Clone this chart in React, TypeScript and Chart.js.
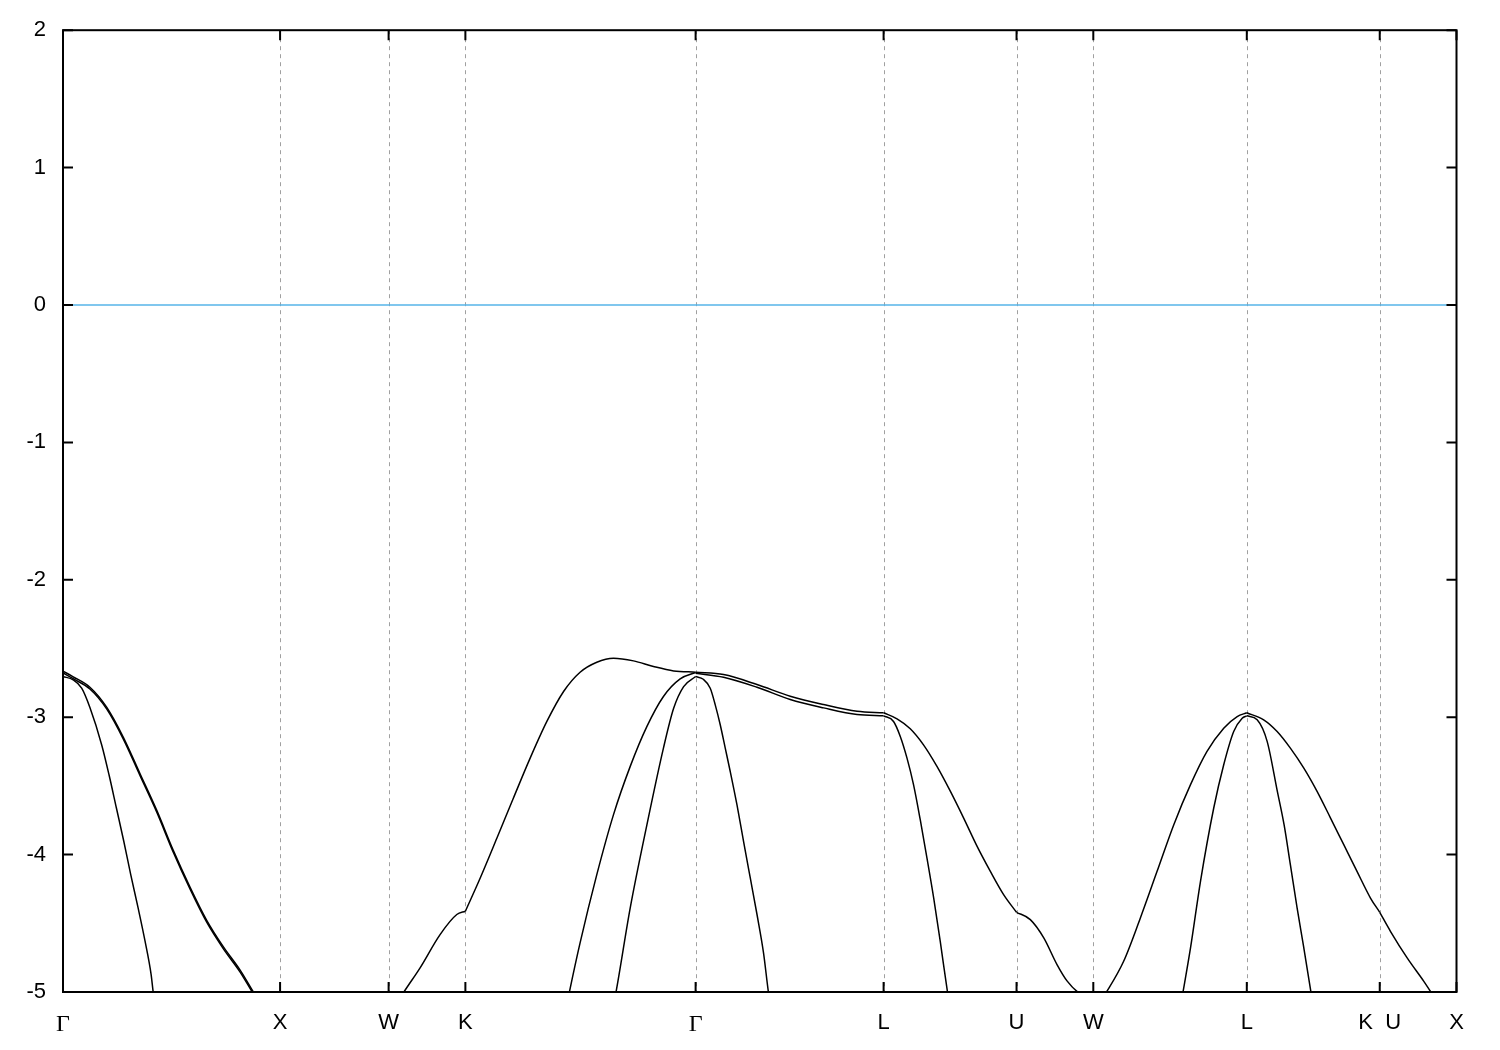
import React, { useEffect, useRef } from "react";
import { Chart, registerables } from "chart.js";

Chart.register(...registerables);

// High-symmetry points along the k-path (Γ-X-W-K-Γ-L-U-W-L-K|U-X)
const kTicks = [0, 1.0, 1.5, 1.8536, 2.9142, 3.7802, 4.3926, 4.7462, 5.4533, 6.0657, 6.4193];
const kLabels = ["Γ", "X", "W", "K", "Γ", "L", "U", "W", "L", "K  U", "X"];
const yTickValues = [2, 1, 0, -1, -2, -3, -4, -5];

// Band segments: [k, energy]
const bandGX_sharp: [number, number][] = [
  [0, -2.704], [0.047, -2.728], [0.086, -2.789], [0.124, -2.93], [0.178, -3.2], [0.212, -3.419],
  [0.246, -3.661], [0.28, -3.903], [0.312, -4.146], [0.346, -4.388], [0.378, -4.63], [0.406, -4.873],
  [0.416, -5.006], [0.43, -5.12],
];
const bandGX_heavyA: [number, number][] = [
  [0, -2.665], [0.047, -2.706], [0.124, -2.782], [0.201, -2.927], [0.278, -3.146], [0.355, -3.412],
  [0.432, -3.678], [0.508, -3.969], [0.585, -4.236], [0.662, -4.478], [0.739, -4.672], [0.816, -4.841],
  [0.877, -5.0], [0.93, -5.13],
];
const bandGX_heavyB: [number, number][] = [
  [0, -2.678], [0.047, -2.72], [0.124, -2.795], [0.201, -2.94], [0.278, -3.16], [0.355, -3.426],
  [0.432, -3.692], [0.508, -3.983], [0.585, -4.25], [0.662, -4.492], [0.739, -4.686], [0.816, -4.855],
  [0.877, -5.014], [0.93, -5.14],
];
const bandWK: [number, number][] = [
  [1.54, -5.08], [1.568, -5.006], [1.645, -4.824], [1.737, -4.582], [1.814, -4.436], [1.8536, -4.412],
];
const bandKG_upper: [number, number][] = [
  [1.8536, -4.412], [1.922, -4.17], [1.999, -3.879], [2.075, -3.588], [2.152, -3.298], [2.229, -3.031],
  [2.306, -2.813], [2.382, -2.673], [2.459, -2.6], [2.536, -2.571], [2.628, -2.59], [2.72, -2.631],
  [2.813, -2.663], [2.9142, -2.672],
];
const bandKG_middle: [number, number][] = [
  [2.32, -5.1], [2.332, -5.006], [2.382, -4.643], [2.459, -4.146], [2.536, -3.709], [2.613, -3.358],
  [2.69, -3.067], [2.766, -2.849], [2.843, -2.721], [2.9142, -2.675],
];
const bandKG_inner: [number, number][] = [
  [2.535, -5.1], [2.547, -5.006], [2.613, -4.388], [2.69, -3.782], [2.766, -3.225], [2.813, -2.935],
  [2.859, -2.777], [2.9142, -2.704],
];
const bandGL_upper: [number, number][] = [
  [2.9142, -2.672], [3.043, -2.69], [3.197, -2.762], [3.35, -2.847], [3.504, -2.908], [3.658, -2.957],
  [3.7802, -2.968],
];
const bandGL_lower: [number, number][] = [
  [2.9142, -2.68], [3.043, -2.709], [3.197, -2.782], [3.35, -2.871], [3.504, -2.932], [3.658, -2.981],
  [3.7802, -2.99],
];
const bandGL_sharp: [number, number][] = [
  [2.9142, -2.704], [2.9497, -2.724], [2.9816, -2.789], [3.0046, -2.91], [3.0276, -3.055], [3.0507, -3.225],
  [3.0737, -3.395], [3.1046, -3.637], [3.135, -3.903], [3.166, -4.17], [3.197, -4.436], [3.227, -4.715],
  [3.25, -5.006], [3.262, -5.12],
];
const bandLU_upper: [number, number][] = [
  [3.7802, -2.968], [3.842, -3.012], [3.903, -3.084], [3.964, -3.201], [4.026, -3.358], [4.088, -3.54],
  [4.149, -3.734], [4.211, -3.94], [4.272, -4.122], [4.333, -4.291], [4.3926, -4.42],
];
const bandUW: [number, number][] = [
  [4.3926, -4.42], [4.456, -4.473], [4.518, -4.606], [4.579, -4.8], [4.626, -4.921], [4.679, -5.006],
  [4.7462, -5.06],
];
const bandLU_sharp: [number, number][] = [
  [3.7802, -2.99], [3.826, -3.031], [3.857, -3.14], [3.888, -3.298], [3.918, -3.491], [3.949, -3.746],
  [3.98, -4.025], [4.011, -4.316], [4.041, -4.63], [4.075, -5.006], [4.09, -5.15],
];
const bandWL_wide: [number, number][] = [
  [4.7462, -5.15], [4.802, -5.013], [4.886, -4.776], [4.963, -4.461], [5.04, -4.122], [5.117, -3.782],
  [5.194, -3.491], [5.27, -3.249], [5.347, -3.08], [5.409, -2.995], [5.4533, -2.968],
];
const bandWL_narrow: [number, number][] = [
  [5.145, -5.13], [5.158, -5.013], [5.194, -4.679], [5.24, -4.194], [5.301, -3.661], [5.347, -3.346],
  [5.393, -3.104], [5.432, -3.007], [5.4533, -2.99],
];
const bandLK_wide: [number, number][] = [
  [5.4533, -2.968], [5.531, -3.019], [5.593, -3.104], [5.654, -3.225], [5.716, -3.371], [5.777, -3.54],
  [5.839, -3.734], [5.9, -3.928], [5.961, -4.122], [6.023, -4.316], [6.0657, -4.42],
];
const bandUX: [number, number][] = [
  [6.0657, -4.42], [6.115, -4.558], [6.192, -4.752], [6.268, -4.921], [6.307, -5.013], [6.33, -5.06],
];
const bandLK_narrow: [number, number][] = [
  [5.4533, -2.99], [5.501, -3.019], [5.547, -3.176], [5.594, -3.54], [5.625, -3.782], [5.654, -4.073],
  [5.685, -4.388], [5.716, -4.679], [5.75, -5.013], [5.76, -5.12],
];
const fermiLine: [number, number][] = [[0, 0], [6.4193, 0]];

const bands = [
  bandGX_sharp, bandGX_heavyA, bandGX_heavyB, bandWK, bandKG_upper, bandKG_middle, bandKG_inner,
  bandGL_upper, bandGL_lower, bandGL_sharp, bandLU_upper, bandUW, bandLU_sharp, bandWL_wide,
  bandWL_narrow, bandLK_wide, bandUX, bandLK_narrow,
];

const framePlugin = {
  id: "frame",
  beforeDatasetsDraw(chart: any) {
    const { ctx, chartArea: a, scales } = chart;
    const x = scales.x;
    ctx.save();
    ctx.strokeStyle = "#a0a0a0";
    ctx.lineWidth = 1;
    ctx.setLineDash([4, 4]);
    ctx.beginPath();
    for (let i = 1; i < kTicks.length - 1; i++) {
      const px = Math.round(x.getPixelForValue(kTicks[i])) + 0.5;
      ctx.moveTo(px, a.top);
      ctx.lineTo(px, a.bottom);
    }
    ctx.stroke();
    ctx.restore();
  },
  afterDatasetsDraw(chart: any) {
    const { ctx, chartArea: a, scales } = chart;
    const x = scales.x;
    const y = scales.y;
    ctx.save();
    ctx.strokeStyle = "#000";
    ctx.lineWidth = 2;
    ctx.strokeRect(a.left, a.top, a.right - a.left, a.bottom - a.top);
    ctx.beginPath();
    for (const v of yTickValues) {
      const py = y.getPixelForValue(v);
      ctx.moveTo(a.left, py);
      ctx.lineTo(a.left + 10, py);
      ctx.moveTo(a.right, py);
      ctx.lineTo(a.right - 10, py);
    }
    for (const k of kTicks) {
      const px = x.getPixelForValue(k);
      ctx.moveTo(px, a.bottom);
      ctx.lineTo(px, a.bottom - 10);
      ctx.moveTo(px, a.top);
      ctx.lineTo(px, a.top + 10);
    }
    ctx.stroke();
    ctx.restore();
  },
};

export default function App() {
  const ref = useRef<HTMLCanvasElement | null>(null);
  useEffect(() => {
    if (!ref.current) return;
    const datasets: any[] = bands.map((b) => ({
      data: b.map(([k, e]) => ({ x: k, y: e })),
      borderColor: "#000000",
      borderWidth: 1.5,
      pointRadius: 0,
      fill: false,
      cubicInterpolationMode: "monotone",
    }));
    datasets.push({
      data: fermiLine.map(([k, e]) => ({ x: k, y: e })),
      borderColor: "#56b4e9",
      borderWidth: 1.5,
      pointRadius: 0,
      fill: false,
    });
    const chart = new Chart(ref.current, {
      type: "line",
      data: { datasets },
      plugins: [framePlugin],
      options: {
        animation: false,
        responsive: false,
        events: [],
        layout: { padding: { top: 28, right: 43.5, left: 0, bottom: 0 } },
        plugins: { legend: { display: false }, tooltip: { enabled: false } },
        scales: {
          x: {
            type: "linear",
            min: 0,
            max: kTicks[kTicks.length - 1],
            afterFit: (s: any) => {
              s.height = 58;
            },
            afterBuildTicks: (s: any) => {
              s.ticks = kTicks.map((v) => ({ value: v }));
            },
            grid: { display: false, drawTicks: false },
            border: { display: false },
            ticks: {
              autoSkip: false,
              maxRotation: 0,
              padding: 18,
              color: "#000",
              callback: (_v: any, i: number) => kLabels[i],
              font: (ctx: any) => ({
                family: ctx.tick && ctx.tick.label === "Γ" ? "Liberation Serif" : "Liberation Sans",
                size: ctx.tick && ctx.tick.label === "Γ" ? 24 : 22,
              }),
            },
          },
          y: {
            type: "linear",
            min: -5,
            max: 2,
            afterFit: (s: any) => {
              s.width = 63;
            },
            grid: { display: false, drawTicks: false },
            border: { display: false },
            ticks: {
              stepSize: 1,
              padding: 17,
              color: "#000",
              font: { family: "Liberation Sans", size: 22 },
            },
          },
        },
      },
    });
    return () => chart.destroy();
  }, []);
  return (
    <div style={{ position: "absolute", left: 0, top: 0, width: 1500, height: 1050, background: "#fff" }}>
      <canvas ref={ref} width={1500} height={1050} />
    </div>
  );
}
